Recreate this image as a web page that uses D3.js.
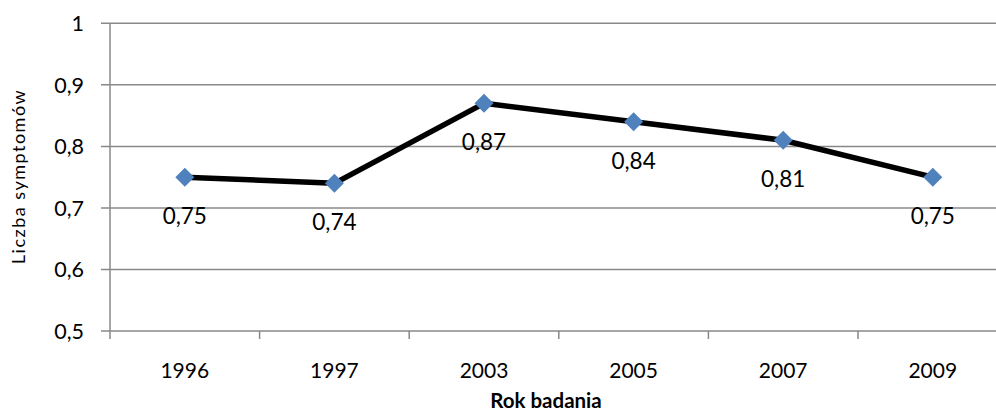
<!DOCTYPE html>
<html><head><meta charset="utf-8">
<script src="https://cdn.jsdelivr.net/npm/d3@7"></script>
<style>body{margin:0;background:#fff}svg{display:block}</style>
</head><body>
<svg id="c" width="996" height="410"></svg>
<script>
const categories = ["1996","1997","2003","2005","2007","2009"];
const values = [0.75,0.74,0.87,0.84,0.81,0.75];
const yTicks = [0.5,0.6,0.7,0.8,0.9,1];
const yTitle = "Liczba symptomów";
const xTitle = "Rok badania";

(function(){
const svg = d3.select("#c");
const font = "Lato, 'Open Sans', sans-serif";
const mLeft = 110, mTop = 23.3, mBottom = 331, bandW = 149.6;
const x = d3.scaleBand().domain(categories).range([mLeft, mLeft + bandW*categories.length]);
const y = d3.scaleLinear().domain([0.5,1]).range([mBottom, mTop]);
const fmt = d => String(d).replace(".", ",");

svg.append("g").selectAll("line").data(yTicks).join("line")
  .attr("x1", mLeft - 9).attr("x2", 1000)
  .attr("y1", d => y(d)).attr("y2", d => y(d))
  .attr("stroke", "#888").attr("stroke-width", 1.5);

svg.append("line").attr("x1", mLeft).attr("x2", mLeft).attr("y1", mTop).attr("y2", mBottom + 8)
  .attr("stroke", "#888").attr("stroke-width", 1.5);

svg.append("g").selectAll("line").data(categories.slice(1)).join("line")
  .attr("x1", d => x(d)).attr("x2", d => x(d))
  .attr("y1", mBottom).attr("y2", mBottom + 8)
  .attr("stroke", "#888").attr("stroke-width", 1.5);

svg.append("g").selectAll("text").data(yTicks).join("text")
  .attr("x", 84).attr("y", d => y(d)).attr("dy", "0.36em")
  .attr("text-anchor", "end").attr("font-family", font).attr("font-size", 21.5)
  .attr("fill", "#000").text(fmt);

svg.append("g").selectAll("text").data(categories).join("text")
  .attr("x", d => x(d) + x.bandwidth()/2).attr("y", 378)
  .attr("text-anchor", "middle").attr("font-family", font).attr("font-size", 21)
  .attr("fill", "#000").text(d => d);

svg.append("text").attr("transform", "translate(25,176.5) rotate(-90)")
  .attr("text-anchor", "middle").attr("font-family", font).attr("font-size", 18)
  .attr("letter-spacing", 1.5)
  .text(yTitle);
svg.append("text").attr("x", 546).attr("y", 407.5)
  .attr("text-anchor", "middle").attr("font-family", font).attr("font-size", 20.5)
  .attr("font-weight", "bold").text(xTitle);

const data = categories.map((c,i) => ({c, v: values[i]}));
const cx = d => x(d.c) + x.bandwidth()/2;

svg.append("path").datum(data)
  .attr("d", d3.line().x(cx).y(d => y(d.v)))
  .attr("fill", "none").attr("stroke", "#000").attr("stroke-width", 5.5)
  .attr("stroke-linejoin", "round");

svg.append("g").selectAll("path").data(data).join("path")
  .attr("transform", d => `translate(${cx(d)},${y(d.v)})`)
  .attr("d", "M0,-9.5L9.5,0L0,9.5L-9.5,0Z")
  .attr("fill", "#4F81BD");

svg.append("g").selectAll("text").data(data).join("text")
  .attr("x", cx).attr("y", d => y(d.v) + 39).attr("dy", "0.36em")
  .attr("text-anchor", "middle").attr("font-family", font).attr("font-size", 22.5)
  .text(d => fmt(d.v));
})();
</script>
</body></html>
